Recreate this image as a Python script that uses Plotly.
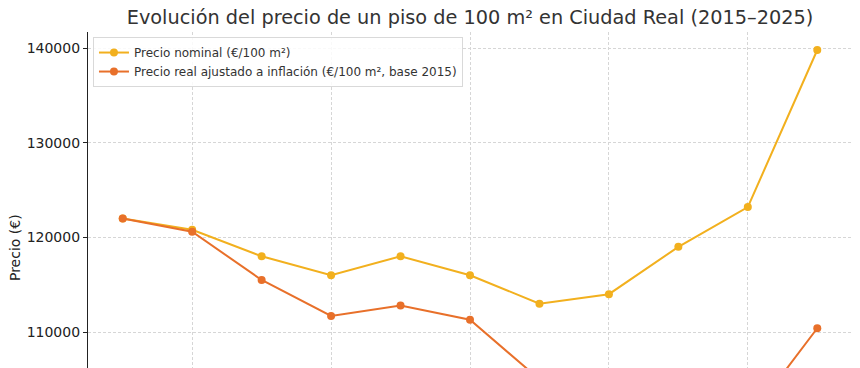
import plotly.graph_objects as go

years = list(range(2015, 2026))
nominal = [122000, 120800, 118000, 116000, 118000, 116000, 113000, 114000, 119000, 123200, 139800]
real = [122000, 120600, 115500, 111700, 112800, 111300, 105000, 98300, 99200, 100700, 110400]
yticks = [110000, 120000, 130000, 140000]

font_family = "DejaVu Sans"
fig = go.Figure()
fig.add_trace(go.Scatter(x=years, y=nominal, mode="lines+markers",
                         name="Precio nominal (€/100 m²)",
                         line=dict(color="#F2B01E", width=2),
                         marker=dict(color="#F2B01E", size=8)))
fig.add_trace(go.Scatter(x=years, y=real, mode="lines+markers",
                         name="Precio real ajustado a inflación (€/100 m², base 2015)",
                         line=dict(color="#E8702A", width=2),
                         marker=dict(color="#E8702A", size=8)))

fig.update_layout(
    width=860, height=368,
    margin=dict(l=88, r=8, t=32, b=0, autoexpand=False),
    paper_bgcolor="white", plot_bgcolor="white",
    font=dict(family=font_family, color="#333333"),
    title=dict(text="Evolución del precio de un piso de 100 m² en Ciudad Real (2015–2025)",
               xref="paper", x=0.5, xanchor="center",
               yref="container", y=1 - 17 / 368, yanchor="middle",
               font=dict(size=19.3, color="#333333")),
    showlegend=True,
    legend=dict(x=0.0065, y=0.985, xanchor="left", yanchor="top",
                bgcolor="rgba(255,255,255,0.85)", bordercolor="#d9d9d9", borderwidth=1,
                font=dict(size=12, color="#333333"), tracegroupgap=0,
                itemwidth=30),
    annotations=[dict(text="Precio (€)", xref="paper", yref="paper",
                      x=-0.0955, y=(368 - 248) / 336, xanchor="center", yanchor="middle",
                      textangle=-90, showarrow=False,
                      font=dict(size=14, color="#222222"))],
)
fig.update_xaxes(range=[2014.5, 2025.5], tickvals=[2016, 2018, 2020, 2022, 2024],
                 showticklabels=False, showgrid=True, gridcolor="#d6d6d6",
                 griddash="3px,2px", gridwidth=1, zeroline=False, showline=False,
                 ticks="", automargin=False)
fig.update_yaxes(range=[106200, 141700], tickvals=yticks,
                 ticktext=[str(v) for v in yticks],
                 showgrid=True, gridcolor="#d6d6d6", griddash="3px,2px", gridwidth=1,
                 zeroline=False, showline=True, linecolor="#222222", linewidth=1.2,
                 ticks="outside", ticklen=4, tickcolor="#222222",
                 tickfont=dict(size=14, color="#222222"), automargin=False)

fig.write_html("out.html", config={"displayModeBar": False},
               post_script="document.body.style.margin='0';document.body.style.overflow='hidden';")
